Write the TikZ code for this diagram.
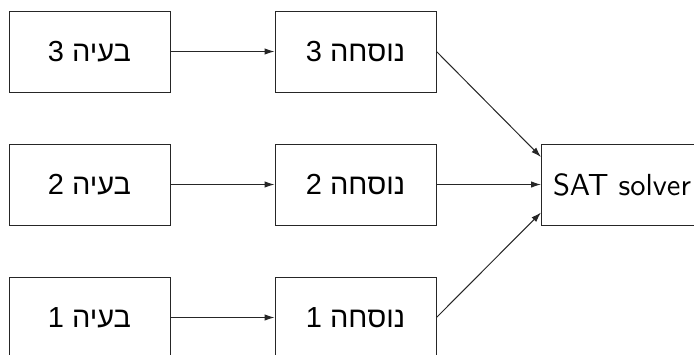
\documentclass[tikz,border=0pt]{standalone}
\usepackage{fontspec}
\usetikzlibrary{arrows.meta}
\TeXXeTstate=1
\newfontfamily\hebfont[Script=Hebrew]{Liberation Sans}
\newfontfamily\satfont{lmsans10-regular.otf}
\begin{document}
\begin{tikzpicture}[x=1pt,y=-1pt,
  box/.style={draw=black!85,line width=1pt,minimum width=161pt,minimum height=81pt,inner sep=0pt},
  heb/.style={box,font=\hebfont\fontsize{29}{34}\selectfont},
  lat/.style={box,font=\satfont\fontsize{30.5}{36}\selectfont},
  link/.style={draw=black!85,line width=1pt,-{Latex[length=10pt,width=6.5pt]}}]
\clip (0,0) rectangle (694,354);
% input problems
\node[heb] (p3) at (89.5,51.5)  {\beginR בעיה 3\endR};
\node[heb] (p2) at (89.5,184.5) {\beginR בעיה 2\endR};
\node[heb] (p1) at (89.5,317.5) {\beginR בעיה 1\endR};
% formulas
\node[heb] (f3) at (355.5,51.5)  {\beginR נוסחה 3\endR};
\node[heb] (f2) at (355.5,184.5) {\beginR נוסחה 2\endR};
\node[heb] (f1) at (355.5,317.5) {\beginR נוסחה 1\endR};
% solver
\node[lat,anchor=west,minimum width=170pt] (sat) at (541,184.5) {\hspace*{-9pt}SAT solver};
\coordinate (satin3) at ([yshift=27.5pt]sat.west);
\coordinate (satin1) at ([yshift=-28pt]sat.west);
% connections
\draw[link] (p3.east) -- (f3.west);
\draw[link] (p2.east) -- (f2.west);
\draw[link] (p1.east) -- (f1.west);
\draw[link] (f3.east) -- (satin3);
\draw[link] (f2.east) -- (sat.west);
\draw[link] (f1.east) -- (satin1);
\end{tikzpicture}
\end{document}
